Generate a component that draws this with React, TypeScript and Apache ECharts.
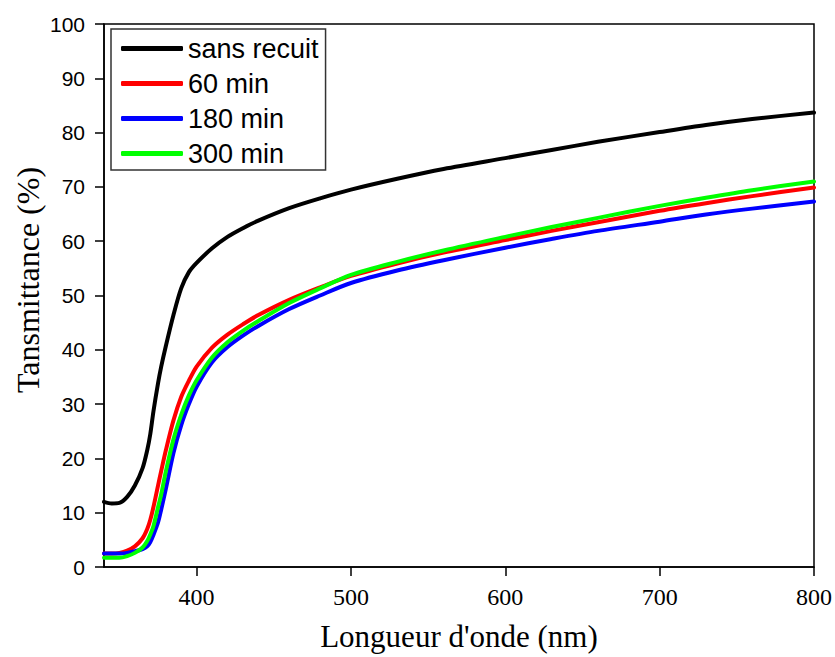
import React, { useEffect, useRef } from "react";
import * as echarts from "echarts";

const wavelengths = [340, 345, 350, 355, 360, 365, 368, 370, 372, 375, 377, 380, 385, 390, 395, 400, 410, 420, 430, 440, 460, 480, 500, 530, 560, 600, 630, 660, 700, 730, 760, 800];

const sansRecuit = [12.0, 11.7, 11.8, 12.9, 15.0, 18.2, 21.5, 24.5, 28.6, 33.8, 36.8, 40.6, 46.4, 51.3, 54.3, 56.0, 58.7, 60.8, 62.4, 63.8, 66.1, 67.9, 69.5, 71.5, 73.3, 75.3, 76.8, 78.3, 80.1, 81.4, 82.5, 83.7];
const min60 = [2.5, 2.5, 2.6, 3.0, 3.8, 5.3, 7.0, 8.7, 11.0, 15.0, 17.6, 21.4, 27.0, 31.3, 34.3, 36.9, 40.4, 42.8, 44.7, 46.4, 49.2, 51.5, 53.6, 55.9, 57.9, 60.2, 61.9, 63.5, 65.6, 67.0, 68.3, 69.9];
const min180 = [2.5, 2.5, 2.5, 2.6, 2.9, 3.3, 3.8, 4.6, 5.9, 8.2, 10.5, 14.3, 21.0, 26.1, 30.0, 33.2, 37.7, 40.5, 42.6, 44.4, 47.5, 50.0, 52.3, 54.6, 56.5, 58.8, 60.4, 61.9, 63.6, 64.9, 66.0, 67.3];
const min300 = [1.7, 1.7, 1.7, 2.0, 2.6, 3.6, 4.8, 6.0, 7.5, 11.0, 13.3, 17.5, 23.5, 28.0, 31.6, 34.4, 38.6, 41.4, 43.5, 45.3, 48.6, 51.3, 53.8, 56.2, 58.3, 60.8, 62.6, 64.3, 66.5, 68.0, 69.4, 71.0];

const seriesNames = ["sans recuit", "60 min", "180 min", "300 min"];
const seriesColors = ["#000000", "#ff0000", "#0000ff", "#00ff00"];
const seriesValues = [sansRecuit, min60, min180, min300];

const xTicks = [400, 500, 600, 700, 800];

export default function App() {
  const ref = useRef<HTMLDivElement>(null);
  useEffect(() => {
    if (!ref.current) return;
    const chart = echarts.init(ref.current, null, { renderer: "svg" });
    chart.setOption({
      animation: false,
      backgroundColor: "#ffffff",
      grid: {
        left: 104,
        top: 24,
        right: 20,
        bottom: 90,
        show: true,
        borderColor: "#000",
        borderWidth: 1.5,
        backgroundColor: "transparent",
      },
      legend: {
        left: 111,
        top: 29,
        orient: "vertical",
        borderColor: "#333",
        borderWidth: 1.5,
        padding: [6, 7, 3, 10],
        itemGap: 8,
        itemWidth: 62,
        itemHeight: 5,
        icon: "roundRect",
        textStyle: { fontFamily: "Liberation Sans", fontSize: 27, color: "#000", lineHeight: 26 },
        data: seriesNames,
      },
      xAxis: {
        type: "value",
        min: 340,
        max: 800,
        axisLine: { show: true, lineStyle: { color: "#000", width: 1.5 } },
        axisTick: { show: true, inside: false, length: 9, customValues: xTicks, lineStyle: { color: "#000", width: 1.5 } },
        axisLabel: {
          customValues: xTicks,
          margin: 18,
          fontFamily: "Liberation Serif",
          fontSize: 24,
          color: "#000",
        },
        splitLine: { show: false },
      },
      yAxis: {
        type: "value",
        min: 0,
        max: 100,
        interval: 10,
        axisLine: { show: true, lineStyle: { color: "#000", width: 1.5 } },
        axisTick: { show: true, inside: false, length: 9, lineStyle: { color: "#000", width: 1.5 } },
        axisLabel: { margin: 19, fontFamily: "Liberation Sans", fontSize: 21, color: "#000" },
        splitLine: { show: false },
      },
      graphic: [
        {
          type: "text",
          x: 28,
          y: 280,
          rotation: Math.PI / 2,
          style: {
            text: "Tansmittance (%)",
            font: "32px 'Liberation Serif'",
            fill: "#000",
            align: "center",
            verticalAlign: "middle",
          },
        },
        {
          type: "text",
          x: 459,
          y: 636,
          style: {
            text: "Longueur d'onde (nm)",
            font: "31px 'Liberation Serif'",
            fill: "#000",
            align: "center",
            verticalAlign: "middle",
          },
        },
      ],
      series: seriesNames.map((name, i) => ({
        name,
        type: "line",
        data: wavelengths.map((w, j) => [w, seriesValues[i][j]]),
        showSymbol: false,
        symbol: "none",
        smooth: 0.3,
        color: seriesColors[i],
        lineStyle: { color: seriesColors[i], width: 4, cap: "round", join: "round" },
        z: 2 + i,
      })),
    });
    return () => chart.dispose();
  }, []);
  return <div ref={ref} style={{ position: "fixed", left: 0, top: 0, width: 835, height: 657 }} />;
}
